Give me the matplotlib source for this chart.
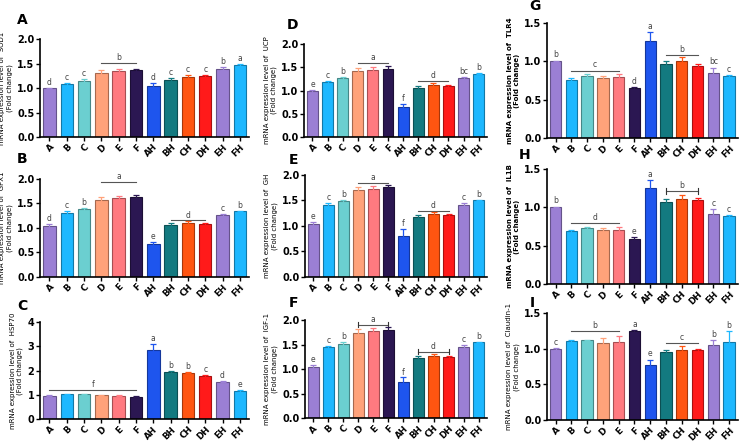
import numpy as np
import matplotlib
matplotlib.use("Agg")
from matplotlib import pyplot as plt
from matplotlib import colors as mcolors

groups = ['A', 'B', 'C', 'D', 'E', 'F', 'AH', 'BH', 'CH', 'DH', 'EH', 'FH']
bar_colors = ['#9B7FD4', '#1EB8FF', '#6BCFD0', '#FFA27A', '#FF7A80', '#2B1752',
              '#1E55EE', '#137A80', '#FF5511', '#FF1A1A', '#9B7FD4', '#1EB8FF']

# panel A - SOD1
sod1 = [1.00, 1.08, 1.15, 1.31, 1.34, 1.36, 1.04, 1.17, 1.22, 1.24, 1.40, 1.48]
sod1_err = [0.01, 0.03, 0.03, 0.05, 0.05, 0.04, 0.06, 0.04, 0.05, 0.02, 0.03, 0.02]
sod1_let = ['d', 'c', 'c', '', '', '', 'd', 'c', 'c', 'c', 'b', 'a']
# panel B - GPX1
gpx1 = [1.03, 1.30, 1.38, 1.57, 1.60, 1.62, 0.66, 1.06, 1.10, 1.08, 1.26, 1.34]
gpx1_err = [0.04, 0.04, 0.03, 0.06, 0.06, 0.05, 0.05, 0.03, 0.03, 0.02, 0.02, 0.01]
gpx1_let = ['d', 'c', 'b', '', '', '', 'e', '', '', '', 'c', 'b']
# panel C - HSP70
hsp70 = [0.97, 1.02, 1.02, 0.98, 0.97, 0.93, 2.87, 1.94, 1.92, 1.78, 1.55, 1.15]
hsp70_err = [0.03, 0.02, 0.02, 0.02, 0.02, 0.02, 0.22, 0.03, 0.02, 0.04, 0.03, 0.04]
hsp70_let = ['', '', '', '', '', '', 'a', 'b', 'b', 'c', 'd', 'e']
# panel D - UCP
ucp = [0.98, 1.18, 1.26, 1.42, 1.45, 1.47, 0.64, 1.06, 1.12, 1.09, 1.27, 1.36]
ucp_err = [0.03, 0.03, 0.03, 0.07, 0.06, 0.05, 0.07, 0.04, 0.04, 0.02, 0.02, 0.01]
ucp_let = ['e', 'c', 'b', '', '', '', 'f', '', '', '', 'bc', 'b']
# panel E - GH
gh = [1.03, 1.40, 1.48, 1.70, 1.72, 1.76, 0.80, 1.18, 1.23, 1.21, 1.41, 1.50]
gh_err = [0.04, 0.04, 0.03, 0.07, 0.07, 0.05, 0.13, 0.04, 0.05, 0.03, 0.03, 0.01]
gh_let = ['e', 'c', 'b', '', '', '', 'f', '', '', '', 'c', 'b']
# panel F - IGF-1
igf1 = [1.05, 1.44, 1.52, 1.73, 1.77, 1.79, 0.74, 1.22, 1.27, 1.24, 1.45, 1.55]
igf1_err = [0.04, 0.04, 0.04, 0.08, 0.07, 0.06, 0.09, 0.04, 0.04, 0.03, 0.04, 0.01]
igf1_let = ['e', 'c', 'b', '', '', '', 'f', '', '', '', 'c', 'b']
# panel G - TLR4
tlr4 = [1.00, 0.76, 0.81, 0.78, 0.79, 0.65, 1.27, 0.97, 1.01, 0.94, 0.85, 0.81]
tlr4_err = [0.01, 0.02, 0.02, 0.03, 0.04, 0.02, 0.11, 0.03, 0.05, 0.03, 0.07, 0.01]
tlr4_let = ['b', '', '', '', '', 'd', 'a', '', '', '', 'bc', 'c']
# panel H - IL1B
il1b = [1.00, 0.69, 0.73, 0.70, 0.71, 0.59, 1.25, 1.07, 1.11, 1.09, 0.91, 0.89]
il1b_err = [0.01, 0.02, 0.01, 0.03, 0.03, 0.02, 0.11, 0.04, 0.05, 0.03, 0.07, 0.01]
il1b_let = ['b', '', '', '', '', 'e', 'a', '', '', '', 'c', 'c']
# panel I - Claudin-1
cldn1 = [1.00, 1.11, 1.12, 1.08, 1.09, 1.25, 0.78, 0.96, 0.99, 0.98, 1.06, 1.10]
cldn1_err = [0.01, 0.01, 0.01, 0.07, 0.09, 0.01, 0.07, 0.03, 0.05, 0.02, 0.07, 0.15]
cldn1_let = ['c', '', '', '', '', 'a', 'e', '', '', '', 'b', 'b']

panels = [
    # letter, gene, values, err, letters, brackets(start, end, y, text, caps), ymax, yticks, pos, bold label
    ('A', 'SOD1', sod1, sod1_err, sod1_let, [(3, 5, 1.52, 'b', False)], 2.0, [0, 0.5, 1.0, 1.5, 2.0], [0.054, 0.692, 0.283, 0.220], False),
    ('B', 'GPX1', gpx1, gpx1_err, gpx1_let, [(3, 5, 1.93, 'a', False), (7, 9, 1.15, 'd', False)], 2.0, [0, 0.5, 1.0, 1.5, 2.0], [0.054, 0.378, 0.283, 0.220], False),
    ('C', 'HSP70', hsp70, hsp70_err, hsp70_let, [(0, 5, 1.22, 'f', False)], 4, [0, 1, 2, 3, 4], [0.054, 0.058, 0.283, 0.218], False),
    ('D', 'UCP', ucp, ucp_err, ucp_let, [(3, 5, 1.59, 'a', False), (7, 9, 1.21, 'd', False)], 2.0, [0, 0.5, 1.0, 1.5, 2.0], [0.411, 0.692, 0.247, 0.209], False),
    ('E', 'GH', gh, gh_err, gh_let, [(3, 5, 1.84, 'a', False), (7, 9, 1.30, 'd', False)], 2.0, [0, 0.5, 1.0, 1.5, 2.0], [0.412, 0.378, 0.246, 0.229], False),
    ('F', 'IGF-1', igf1, igf1_err, igf1_let, [(3, 5, 1.90, 'a', True), (7, 9, 1.35, 'd', True)], 2.0, [0, 0.5, 1.0, 1.5, 2.0], [0.412, 0.060, 0.246, 0.221], False),
    ('G', 'TLR4', tlr4, tlr4_err, tlr4_let, [(1, 4, 0.88, 'c', False), (7, 9, 1.08, 'b', False)], 1.5, [0, 0.5, 1.0, 1.5], [0.739, 0.690, 0.258, 0.258], True),
    ('H', 'IL1B', il1b, il1b_err, il1b_let, [(1, 4, 0.79, 'd', False), (7, 9, 1.21, 'b', True)], 1.5, [0, 0.5, 1.0, 1.5], [0.739, 0.362, 0.258, 0.258], True),
    ('I', 'Claudin-1', cldn1, cldn1_err, cldn1_let, [(1, 4, 1.25, 'b', False), (7, 9, 1.08, 'c', False)], 1.5, [0, 0.5, 1.0, 1.5], [0.739, 0.056, 0.258, 0.240], False),
]

label_pos = {'A': (22, 20), 'B': (22, 159), 'C': (22, 306), 'D': (293, 25), 'E': (293, 160),
             'F': (293, 303), 'G': (535, 6), 'H': (525, 155), 'I': (532, 303)}

fig = plt.figure(figsize=(7.4, 4.45), dpi=100)
x = np.arange(len(groups))

for letter, gene, vals, errs, lets, brackets, ymax, yticks, pos, bold in panels:
    ax = fig.add_axes(pos)
    edges = [tuple(c * 0.65 for c in mcolors.to_rgb(col)) for col in bar_colors]
    ax.bar(x, vals, width=0.72, color=bar_colors, edgecolor=edges, linewidth=0.8, zorder=2)
    for i in range(len(groups)):
        ax.errorbar(x[i], vals[i], yerr=errs[i], color=mcolors.to_rgb(bar_colors[i]),
                    capsize=2, elinewidth=0.9, capthick=0.9, zorder=3)
        if lets[i]:
            ax.text(x[i], vals[i] + errs[i] + ymax * 0.01, lets[i], ha='center', va='bottom',
                    fontsize=5.5, color='#444444')
    for s, e, yb, t, caps in brackets:
        ax.plot([x[s], x[e]], [yb, yb], color='#555555', lw=0.8)
        if caps:
            ax.plot([x[s], x[s]], [yb - ymax * 0.025, yb + ymax * 0.025], color='#333333', lw=0.8)
            ax.plot([x[e], x[e]], [yb - ymax * 0.025, yb + ymax * 0.025], color='#333333', lw=0.8)
        ax.text((x[s] + x[e]) / 2, yb + ymax * 0.01, t, ha='center', va='bottom', fontsize=5.5, color='#444444')
    ax.set_xlim(-0.55, len(groups) - 0.45)
    ax.set_ylim(0, ymax)
    ax.set_yticks(yticks)
    if ymax == 4:
        ax.set_yticklabels([str(int(v)) for v in yticks], fontsize=7, fontweight='bold')
    else:
        ax.set_yticklabels(['%.1f' % v for v in yticks], fontsize=7, fontweight='bold')
    ax.set_xticks(x)
    ax.set_xticklabels(groups, rotation=45, ha='right', rotation_mode='anchor', fontsize=6.3, fontweight='bold')
    ax.spines['top'].set_visible(False)
    ax.spines['right'].set_visible(False)
    ax.spines['left'].set_linewidth(1.2)
    ax.spines['bottom'].set_linewidth(1.2)
    ax.tick_params(axis='both', width=1.0, length=3, pad=1)
    ax.set_ylabel('mRNA expression level of  ' + gene + '\n(Fold change)', fontsize=5,
                  fontweight='bold' if bold else 'normal', labelpad=3)
    lx, ly = label_pos[letter]
    fig.text(lx / 740, 1 - ly / 445, letter, fontsize=10, fontweight='bold', ha='center', va='center')

fig.savefig('out.png', dpi=100)
